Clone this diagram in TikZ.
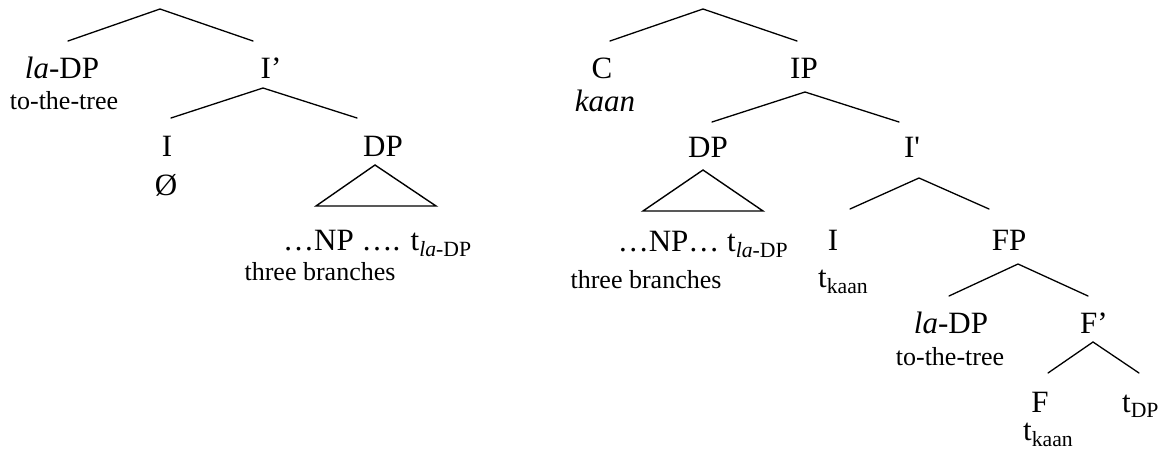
\documentclass[tikz,border=0pt]{standalone}
\usepackage{fontspec}
\setmainfont{Liberation Serif}
\tikzset{
  lab/.style={anchor=base, inner sep=0pt, font=\fontsize{31}{36}\selectfont},
  labw/.style={anchor=base west, inner sep=0pt, font=\fontsize{31}{36}\selectfont},
  sml/.style={anchor=base, inner sep=0pt, font=\fontsize{26}{30}\selectfont},
  branch/.style={line width=1.3pt, line cap=round},
  tri/.style={line width=1.4pt, line join=miter},
}
\begin{document}
\begin{tikzpicture}[x=1pt,y=-1pt]
\useasboundingbox (0,0) rectangle (1161,455);
% ---------- left tree ----------
\node[lab] (laDPL) at (62,78) {\textit{la}-DP};
\node[sml] (tttL) at (64,109) {to-the-tree};
\node[lab] (IbarL) at (271,78) {I’};
\node[lab] (IL) at (167,156) {I};
\node[lab] (nullL) at (166,195) {Ø};
\node[lab] (DPL) at (383,156) {DP};
\node[labw] (NPL) at (283,250) {…NP …. t\textsubscript{\textit{la}-DP}};
\node[sml] (tbL) at (320,280) {three branches};
\coordinate (rootL) at (160,9);
\coordinate (rootLa) at (68,41);
\coordinate (rootLb) at (253,41);
\coordinate (IbarLt) at (263,88);
\coordinate (IbarLa) at (171,118);
\coordinate (IbarLb) at (357,118);
\coordinate (DPLt) at (375,165);
\coordinate (DPLa) at (316,206);
\coordinate (DPLb) at (436,206);
\draw[branch] (rootLa) -- (rootL) -- (rootLb);
\draw[branch] (IbarLa) -- (IbarLt) -- (IbarLb);
\draw[tri] (DPLt) -- (DPLa) -- (DPLb) -- cycle;
% ---------- right tree ----------
\node[lab] (C) at (602,78) {C};
\node[lab] (kaan) at (605,111) {\textit{kaan}};
\node[lab] (IP) at (804,78) {IP};
\node[lab] (DPR) at (708,157) {DP};
\node[lab] (IbarR) at (912,157) {I\textquotesingle};
\node[lab] (NPR) at (703,251) {…NP… t\textsubscript{\textit{la}-DP}};
\node[sml] (tbR) at (646,288) {three branches};
\node[lab] (IR) at (833,250) {I};
\node[labw] (tkI) at (818,287) {t\textsubscript{kaan}};
\node[lab] (FP) at (1009,250) {FP};
\node[lab] (laDPR) at (951,333) {\textit{la}-DP};
\node[sml] (tttR) at (950,365) {to-the-tree};
\node[lab] (Fbar) at (1094,333) {F’};
\node[lab] (F) at (1040,412) {F};
\node[labw] (tDP) at (1122,412) {t\textsubscript{DP}};
\node[labw] (tkF) at (1023,440) {t\textsubscript{kaan}};
\coordinate (rootR) at (703,9);
\coordinate (rootRa) at (610,41);
\coordinate (rootRb) at (797,41);
\coordinate (IPt) at (805,92);
\coordinate (IPa) at (712,122);
\coordinate (IPb) at (899,122);
\coordinate (DPRt) at (703,170);
\coordinate (DPRa) at (643,211);
\coordinate (DPRb) at (763,211);
\coordinate (IbarRt) at (919,178);
\coordinate (IbarRa) at (850,209);
\coordinate (IbarRb) at (989,209);
\coordinate (FPt) at (1018,264);
\coordinate (FPa) at (949,296);
\coordinate (FPb) at (1088,296);
\coordinate (Fbart) at (1093,342);
\coordinate (Fbara) at (1048,373);
\coordinate (Fbarb) at (1139,373);
\draw[branch] (rootRa) -- (rootR) -- (rootRb);
\draw[branch] (IPa) -- (IPt) -- (IPb);
\draw[tri] (DPRt) -- (DPRa) -- (DPRb) -- cycle;
\draw[branch] (IbarRa) -- (IbarRt) -- (IbarRb);
\draw[branch] (FPa) -- (FPt) -- (FPb);
\draw[branch] (Fbara) -- (Fbart) -- (Fbarb);
\end{tikzpicture}
\end{document}
